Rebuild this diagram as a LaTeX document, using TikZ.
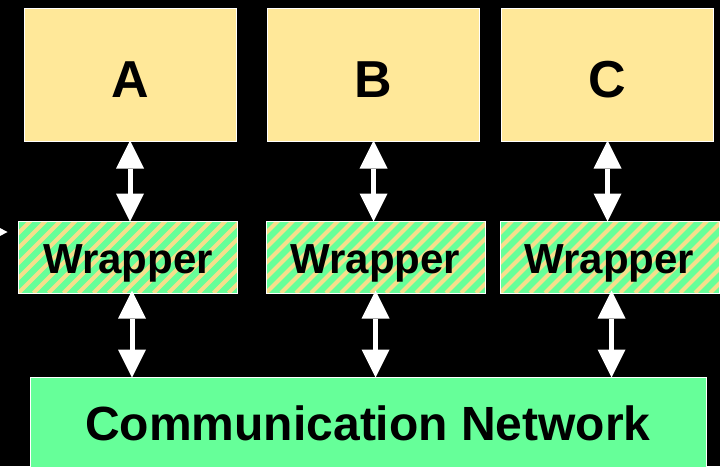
\documentclass[tikz,border=0pt]{standalone}
\usepackage{fontspec}
\setmainfont{Liberation Sans}
\usetikzlibrary{arrows.meta}

\definecolor{paleyellow}{HTML}{FFE899}
\definecolor{mint}{HTML}{66FF99}
\definecolor{stripeyellow}{HTML}{F5DF8C}

\tikzset{
  module/.style={draw=white, line width=1pt, fill=paleyellow, inner sep=0pt,
    minimum width=212pt, minimum height=133pt,
    font=\bfseries\fontsize{52}{60}\selectfont, text height=45pt, text depth=0pt},
  wrapperbox/.style={draw=white, line width=1pt, fill=mint, inner sep=0pt,
    minimum width=219pt, minimum height=72pt,
    font=\bfseries\fontsize{42}{50}\selectfont, text height=32pt, text depth=0pt,
    path picture={
      \foreach \k in {-6,...,16}
        \draw[stripeyellow, line width=4pt]
          ([xshift=\k*15pt]path picture bounding box.south west) -- ++(90,-90);
    }},
  netbox/.style={draw=white, line width=1pt, fill=mint, inner sep=0pt,
    minimum width=676pt, minimum height=100pt,
    font=\bfseries\fontsize{48}{56}\selectfont, text height=26pt, text depth=0pt},
  twoway/.style={white, line width=5pt,
    {Triangle[length=28pt,width=28pt,line width=0pt]}-{Triangle[length=28pt,width=28pt,line width=0pt]}},
}

\begin{document}
\begin{tikzpicture}[x=1pt, y=-1pt]
  % canvas
  \fill[black] (0,0) rectangle (720,466);
  \clip (0,0) rectangle (720,466);

  % components
  \node[module] (a) at (130,74.5) {A};
  \node[module] (b) at (373.5,74.5) {B};
  \node[module] (c) at (607.5,74.5) {C};

  % wrappers
  \node[wrapperbox] (w1) at (128,257) {Wrapper};
  \node[wrapperbox] (w2) at (375.5,257) {Wrapper};
  \node[wrapperbox] (w3) at (609.5,257) {Wrapper};

  % network
  \node[netbox] (net) at (368,427) {Communication Network};

  % component <-> wrapper
  \draw[twoway] ([yshift=1pt]a.south) -- ([yshift=-1pt]a.south |- w1.north);
  \draw[twoway] ([yshift=1pt]b.south) -- ([yshift=-1pt]b.south |- w2.north);
  \draw[twoway] ([yshift=1pt]c.south) -- ([yshift=-1pt]c.south |- w3.north);

  % wrapper <-> network
  \draw[twoway] ([xshift=4pt,yshift=3pt]w1.south) -- ([xshift=4pt,yshift=-1pt]w1.south |- net.north);
  \draw[twoway] ([yshift=3pt]w2.south) -- ([yshift=-1pt]w2.south |- net.north);
  \draw[twoway] ([xshift=2pt,yshift=3pt]w3.south) -- ([xshift=2pt,yshift=-1pt]w3.south |- net.north);

  % incoming arrow tip at the left edge
  \coordinate (feed) at (7.5,232);
  \fill[white] (feed) -- (-1,227.5) -- (-1,236.5) -- cycle;
\end{tikzpicture}
\end{document}
